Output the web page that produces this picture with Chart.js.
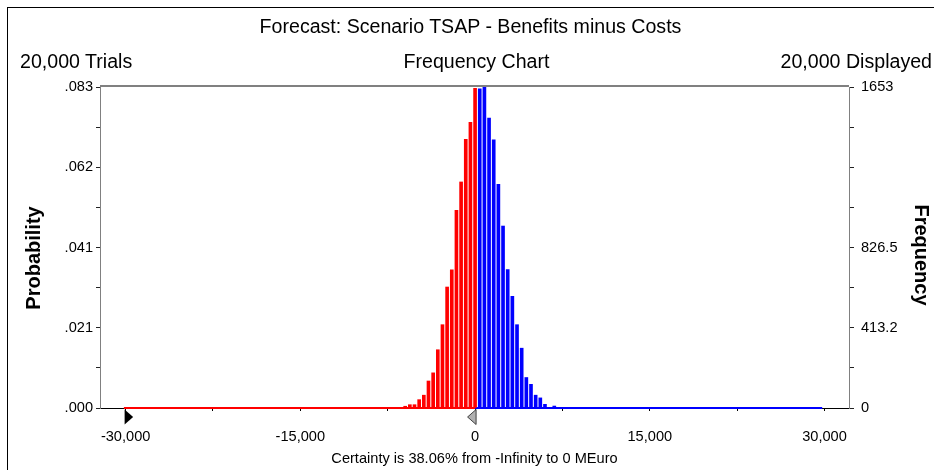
<!DOCTYPE html>
<html>
<head>
<meta charset="utf-8">
<script src="https://cdn.jsdelivr.net/npm/chart.js@4"></script>
<style>
  body { margin: 0; background: #fff; font-family: "Liberation Sans", Arial, sans-serif; }
  #quadro { position: relative; width: 947px; height: 470px; overflow: hidden; }
  #moldura { position: absolute; left: 7px; top: 7px; width: 926px; height: 480px; border-top: 1px solid #000; border-left: 1px solid #000; }
  .texto { position: absolute; white-space: nowrap; color: #000; font-size: 19.6px; line-height: 20px; }
  .eixo { position: absolute; white-space: nowrap; font-weight: bold; font-size: 20px; line-height: 20px; }
  canvas { position: absolute; left: 0; top: 0; }
</style>
</head>
<body>
<div id="quadro">
  <canvas id="grafico" width="947" height="470"></canvas>
  <div id="moldura"></div>
  <div class="texto" style="left:0; width:941px; text-align:center; top:16px;">Forecast: Scenario TSAP - Benefits minus Costs</div>
  <div class="texto" style="left:20px; top:51px;">20,000 Trials</div>
  <div class="texto" style="left:0; width:953px; text-align:center; top:51px;">Frequency Chart</div>
  <div class="texto" style="right:15px; top:51px;">20,000 Displayed</div>
  <div class="eixo" style="left:33px; top:258px; transform: translate(-50%, -50%) rotate(-90deg);">Probability</div>
  <div class="eixo" style="left:922px; top:255px; transform: translate(-50%, -50%) rotate(90deg);">Frequency</div>
</div>
<script>
// centros das classes (MEuro) e frequencias
var classes = [-6000, -5600, -5200, -4800, -4400, -4000, -3600, -3200, -2800, -2400, -2000,
  -1600, -1200, -800, -400, 0, 400, 800, 1200, 1600, 2000, 2400, 2800, 3200, 3600, 4000,
  4400, 4800, 5200, 5600, 6000, 6400, 6800];
var frequencias = [9, 17, 17, 43, 66, 139, 181, 300, 429, 623, 711,
  1018, 1164, 1383, 1471, 1646, 1643, 1653, 1493, 1381, 1152, 937, 713, 575, 429, 308,
  157, 122, 66, 52, 19, 0, 10];

var totalTrials = 20000;
var freqMax = 1653;
var limiteCerteza = 0;
var minimoExibido = -30000;
var maximoExibido = 30000;

var xTickValores = [-30000, -22500, -15000, -7500, 0, 7500, 15000, 22500, 30000];
var xTickLabels = ["-30,000", "", "-15,000", "", "0", "", "15,000", "", "30,000"];
var probTickLabels = [".000", "", ".021", "", ".041", "", ".062", "", ".083"];
var freqTickLabels = ["0", "", "413.2", "", "826.5", "", "", "", "1653"];

var fonteTicks = { family: "'Liberation Sans', Arial, sans-serif", size: 14.6 };

function montarBarras(cond) {
  var dados = [];
  for (var i = 0; i < classes.length; i++) {
    if (cond(classes[i])) {
      dados.push({ x: classes[i], y: frequencias[i] });
    }
  }
  return dados;
}

var marcadores = {
  id: "marcadores",
  afterDraw: function (chart) {
    var ctx = chart.ctx;
    var area = chart.chartArea;
    var escalaX = chart.scales.x;
    ctx.save();

    // borda superior cinza da area do grafico
    ctx.strokeStyle = "#808080";
    ctx.lineWidth = 2;
    ctx.beginPath();
    ctx.moveTo(area.left, area.top - 1);
    ctx.lineTo(area.right, area.top - 1);
    ctx.stroke();

    // marcador preto (inicio)
    var xa = escalaX.getPixelForValue(minimoExibido) - 1;
    ctx.fillStyle = "#000";
    ctx.beginPath();
    ctx.moveTo(xa, area.bottom + 1.5);
    ctx.lineTo(xa + 8.5, area.bottom + 9);
    ctx.lineTo(xa, area.bottom + 16.5);
    ctx.closePath();
    ctx.fill();

    // marcador cinza (limite da certeza)
    var xb = escalaX.getPixelForValue(limiteCerteza) + 1;
    ctx.fillStyle = "#b0b0b0";
    ctx.strokeStyle = "#404040";
    ctx.lineWidth = 1;
    ctx.beginPath();
    ctx.moveTo(xb, area.bottom + 1.5);
    ctx.lineTo(xb - 8.5, area.bottom + 9);
    ctx.lineTo(xb, area.bottom + 16.5);
    ctx.closePath();
    ctx.fill();
    ctx.stroke();

    ctx.restore();
  },
};

new Chart(grafico, {
  type: "bar",
  data: {
    datasets: [
      {
        data: montarBarras(function (v) { return v <= limiteCerteza; }),
        backgroundColor: "#ff0000",
        barThickness: 3,
        grouped: false,
        yAxisID: "freq",
      },
      {
        data: montarBarras(function (v) { return v > limiteCerteza; }),
        backgroundColor: "#0000ff",
        barThickness: 3,
        grouped: false,
        yAxisID: "freq",
      },
      {
        type: "line",
        data: [{ x: minimoExibido - 150, y: 0 }, { x: limiteCerteza, y: 0 }],
        borderColor: "#ff0000",
        borderWidth: 2,
        pointRadius: 0,
        clip: false,
        yAxisID: "freq",
      },
      {
        type: "line",
        data: [{ x: limiteCerteza, y: 0 }, { x: maximoExibido - 200, y: 0 }],
        borderColor: "#0000ff",
        borderWidth: 2,
        pointRadius: 0,
        clip: false,
        yAxisID: "freq",
      },
    ],
  },
  options: {
    responsive: false,
    animation: false,
    layout: {
      padding: { top: 87, bottom: 0, left: 0, right: 0 },
    },
    scales: {
      x: {
        type: "linear",
        offset: false,
        min: -32200,
        max: 32100,
        afterBuildTicks: function (scale) {
          scale.ticks = xTickValores.map(function (v) { return { value: v }; });
        },
        afterFit: function (scale) {
          scale.height = 62;
        },
        ticks: {
          autoSkip: false,
          maxRotation: 0,
          padding: 17,
          color: "#000",
          font: fonteTicks,
          callback: function (valor, indice) {
            return xTickLabels[indice];
          },
        },
        grid: {
          offset: false,
          drawOnChartArea: false,
          tickLength: 3,
          color: "#000",
        },
        border: { color: "#000", width: 1 },
        title: {
          display: true,
          text: "Certainty is 38.06% from -Infinity to 0 MEuro",
          color: "#000",
          font: fonteTicks,
          padding: { top: 0, bottom: 2 },
        },
      },
      prob: {
        type: "linear",
        position: "left",
        min: 0,
        max: freqMax / totalTrials,
        afterBuildTicks: function (scale) {
          scale.ticks = probTickLabels.map(function (l, i) {
            return { value: (i * freqMax) / 8 / totalTrials };
          });
        },
        afterFit: function (scale) {
          scale.width = 100;
        },
        ticks: {
          autoSkip: false,
          padding: 3,
          color: "#000",
          font: fonteTicks,
          callback: function (valor, indice) {
            return probTickLabels[indice];
          },
        },
        grid: {
          drawOnChartArea: false,
          tickLength: 4,
          color: "#222",
        },
        border: { color: "#808080", width: 1 },
      },
      freq: {
        type: "linear",
        position: "right",
        min: 0,
        max: freqMax,
        afterBuildTicks: function (scale) {
          scale.ticks = freqTickLabels.map(function (l, i) {
            return { value: (i * freqMax) / 8 };
          });
        },
        afterFit: function (scale) {
          scale.width = 98;
        },
        ticks: {
          autoSkip: false,
          padding: 7,
          color: "#000",
          font: fonteTicks,
          callback: function (valor, indice) {
            return freqTickLabels[indice];
          },
        },
        grid: {
          drawOnChartArea: false,
          tickLength: 5,
          color: "#222",
        },
        border: { color: "#808080", width: 1 },
      },
    },
    plugins: {
      legend: { display: false },
      tooltip: { enabled: false },
    },
  },
  plugins: [marcadores],
});
</script>
</body>
</html>
